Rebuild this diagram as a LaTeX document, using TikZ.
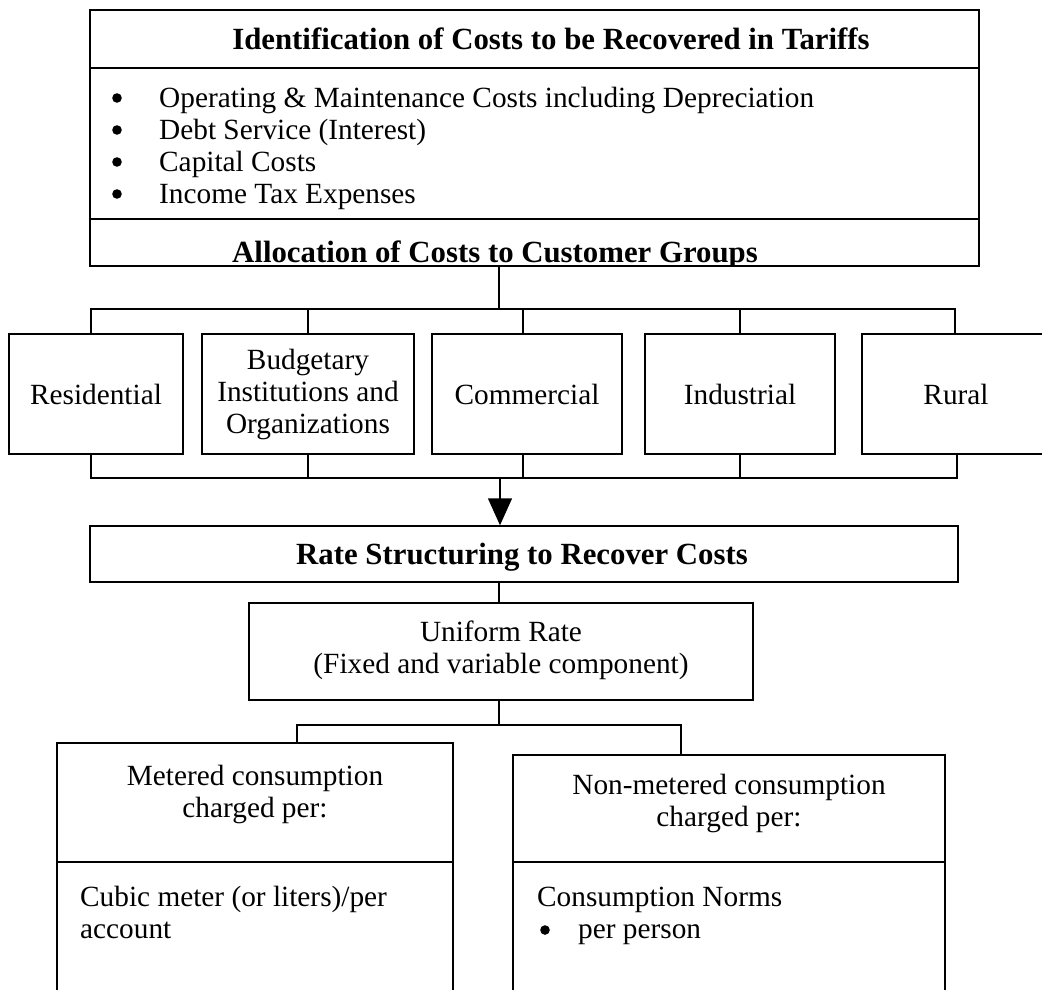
\documentclass[tikz,border=0pt]{standalone}
\usepackage{fontspec}
\setmainfont{Liberation Serif}
\usetikzlibrary{arrows.meta, positioning}

\begin{document}
\begin{tikzpicture}[x=1pt, y=-1pt,
            > = {Triangle[length=27pt, width=24pt]},
      box/.style = {draw, line width=1.5pt, inner sep=0pt},
      txt/.style = {inner sep=0pt, font=\fontsize{29.3}{32}\selectfont, align=center},
     head/.style = {txt, font=\fontsize{30.8}{31.5}\selectfont\bfseries},
     wire/.style = {line width=1.5pt},
      dot/.style = {fill, radius=4.8pt}
                        ]
\useasboundingbox (0,0) rectangle (1042,989);
% cost box
    \node[box, minimum width=889pt, minimum height=58pt]  (ident) at (534.5,39) {};
    \node[box, minimum width=889pt, minimum height=151pt] (costs) at (534.5,143.5) {};
    \node[head, anchor=base] (identT) at (551,49) {Identification of Costs to be Recovered in Tariffs};
    \node[txt, anchor=base west, align=left] (costL) at (159,203) {%
      Operating \& Maintenance Costs including Depreciation\\
      Debt Service (Interest)\\
      Capital Costs\\
      Income Tax Expenses};
    \foreach \y in {98,130,162,194}
      \fill[dot] (117,\y) circle;
\begin{scope}
    \clip (90,219) rectangle (979,266);
    \node[head, anchor=base] (allocT) at (495,262) {Allocation of Costs to Customer Groups};
\end{scope}
    \node[box, minimum width=889pt, minimum height=47pt] (alloc) at (534.5,242.5) {};
% customer groups
    \node[box, txt, minimum width=174pt, minimum height=120pt] (res) at (96,394)  {Residential};
    \node[box, txt, minimum width=212pt, minimum height=120pt] (bud) at (308,394) {Budgetary\\Institutions and\\Organizations};
    \node[box, txt, minimum width=190pt, minimum height=120pt] (com) at (527,394) {Commercial};
    \node[box, txt, minimum width=190pt, minimum height=120pt] (ind) at (740,394) {Industrial};
    \node[box, txt, minimum width=200pt, minimum height=120pt] (rur) at (962,394) {\hspace*{-12pt}Rural};
% rate structure
    \node[box, minimum width=868pt, minimum height=56pt] (rate) at (524,554) {};
    \node[head, anchor=base] (rateT) at (522,564) {Rate Structuring to Recover Costs};
    \node[box, minimum width=504pt, minimum height=97pt] (uni) at (501,651.5) {};
    \node[txt, anchor=base] (uniT) at (501,673) {Uniform Rate\\(Fixed and variable component)};
% charging
    \node[box, minimum width=396pt, minimum height=119pt] (met) at (255,802.5) {};
    \node[box, minimum width=396pt, minimum height=140pt] (metB) at (255,932) {};
    \node[box, minimum width=432pt, minimum height=107pt] (non) at (729,808.5) {};
    \node[box, minimum width=432pt, minimum height=140pt] (nonB) at (729,932) {};
    \node[txt, anchor=base] (metT) at (255,817) {Metered consumption\\charged per:};
    \node[txt, anchor=base] (nonT) at (729,826) {Non-metered consumption\\charged per:};
    \node[txt, anchor=base west, align=left] (metL) at (80,938) {Cubic meter (or liters)/per\\account};
    \node[txt, anchor=base west, align=left] (nonL) at (537,906) {Consumption Norms};
    \node[txt, anchor=base west, align=left] (nonP) at (578,938) {per person};
    \fill[dot] (545,930) circle;
% connectors
\coordinate (split) at (499,309);
\coordinate (merge) at (500,478);
\coordinate (fork)  at (499,725);
\coordinate (forkL) at (297,725);
\coordinate (forkR) at (681,725);
    \draw[wire] (alloc.south -| split) -- (split);
    \draw[wire] ([xshift=-5pt]res.north) |- (split -| 955,0) -- (955,334);
    \draw[wire] (bud.north) -- (bud.north |- split);
    \draw[wire] ([xshift=-4pt]com.north) -- ([xshift=-4pt]com.north |- split);
    \draw[wire] (ind.north) -- (ind.north |- split);
    \draw[wire] ([xshift=-5pt]res.south) |- (merge -| 957,0) -- (957,454);
    \draw[wire] (bud.south) -- (bud.south |- merge);
    \draw[wire] ([xshift=-4pt]com.south) -- ([xshift=-4pt]com.south |- merge);
    \draw[wire] (ind.south) -- (ind.south |- merge);
    \draw[wire, ->] (merge) -- (merge |- rate.north);
    \draw[wire] (split |- rate.south) -- (split |- uni.north);
    \draw[wire] (fork |- uni.south) -- (fork);
    \draw[wire] (forkL |- met.north) -- (forkL) -- (forkR) -- (forkR |- non.north);
\end{tikzpicture}
\end{document}
